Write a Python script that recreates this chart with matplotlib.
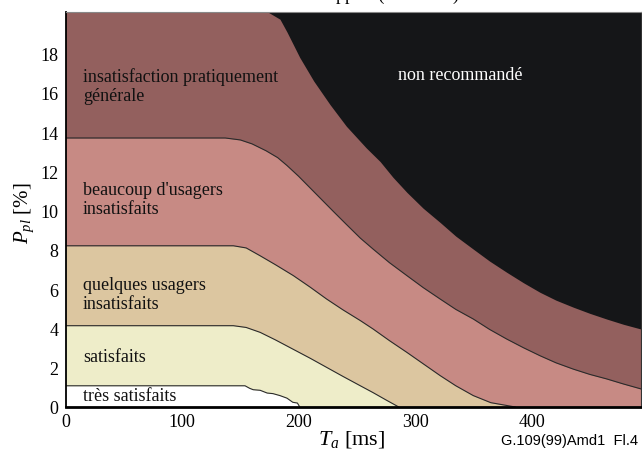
import matplotlib
matplotlib.use("Agg")
import matplotlib.pyplot as plt

# ---- data (boundaries) ----
ta_ticks = [0, 100, 200, 300, 400]
ppl_ticks = [0, 2, 4, 6, 8, 10, 12, 14, 16, 18]

# very satisfied / satisfied
b1_ta = [0, 154, 158, 161, 167, 173, 178, 184, 190, 195, 199, 201]
b1_p = [1.08, 1.08, 0.95, 0.88, 0.85, 0.71, 0.68, 0.58, 0.45, 0.24, 0.2, 0.0]
# satisfied / some dissatisfied
b2_ta = [0, 144, 155, 167, 180, 195, 210, 224, 238, 253, 264, 275, 286]
b2_p = [4.14, 4.14, 4.05, 3.8, 3.42, 2.95, 2.48, 2.02, 1.56, 1.08, 0.73, 0.36, 0.0]
# some / many dissatisfied
b3_ta = [0, 144, 155, 167, 180, 195.5, 210, 224, 238, 253, 264, 278, 293, 307, 321.5, 335, 350, 365, 386]
b3_p = [8.21, 8.21, 8.1, 7.7, 7.25, 6.69, 6.1, 5.5, 4.95, 4.4, 3.97, 3.38, 2.78, 2.2, 1.6, 1.08, 0.58, 0.22, 0.0]
# many dissatisfied / nearly all
b4_ta = [0, 137, 150, 160, 172, 182, 190, 200, 210, 220, 230, 241, 253, 264, 278, 293,
         307, 321.5, 335, 350, 364, 378.7, 393, 407.3, 421, 435.8, 450, 464.5, 479, 494]
b4_p = [13.7, 13.7, 13.6, 13.4, 13.05, 12.7, 12.3, 11.75, 11.15, 10.55, 9.95, 9.3, 8.6, 8.04, 7.35, 6.69,
        6.08, 5.5, 4.97, 4.48, 3.95, 3.46, 3.02, 2.61, 2.25, 1.93, 1.66, 1.43, 1.17, 0.92]
# nearly all dissatisfied / not recommended
b5_ta = [0, 174, 184, 190, 201, 213, 227, 241, 258, 270, 281, 293, 307, 321.5, 335, 350, 364,
         378.7, 393, 407.3, 421, 436, 450, 464.5, 479, 494]
b5_p = [20.1, 20.1, 19.75, 19.1, 17.8, 16.6, 15.4, 14.3, 13.2, 12.5, 11.7, 10.93, 10.12, 9.4, 8.7, 8.04, 7.43,
        6.86, 6.33, 5.84, 5.44, 5.08, 4.77, 4.48, 4.21, 3.97]

zone_labels = ["très satisfaits", "satisfaits", "quelques usagers\ninsatisfaits",
               "beaucoup d'usagers\ninsatisfaits", "insatisfaction pratiquement\ngénérale",
               "non recommandé"]

colors = ["#ffffff", "#eeedc9", "#dcc6a0", "#c78a84", "#93605e", "#151618"]

plt.rcParams['font.family'] = ['Liberation Serif', 'DejaVu Serif']
plt.rcParams['mathtext.fontset'] = 'custom'
plt.rcParams['mathtext.rm'] = 'Liberation Serif'
plt.rcParams['mathtext.it'] = 'Liberation Serif:italic'

fig = plt.figure(figsize=(6.42, 4.56), dpi=100)
ax = fig.add_axes([0.1023, 0.1053, 0.8961, 0.8655])
ax.set_facecolor(colors[5])

ax.fill_between(b5_ta, 0, b5_p, color=colors[4], lw=0)
ax.fill_between(b4_ta, 0, b4_p, color=colors[3], lw=0)
ax.fill_between(b3_ta, 0, b3_p, color=colors[2], lw=0)
ax.fill_between(b2_ta, 0, b2_p, color=colors[1], lw=0)
ax.fill_between(b1_ta, 0, b1_p, color=colors[0], lw=0)

for bt, bp in [(b1_ta, b1_p), (b2_ta, b2_p), (b3_ta, b3_p), (b4_ta, b4_p)]:
    ax.plot(bt, bp, color="#2a2a2a", lw=0.8, solid_joinstyle='round')

ax.set_xlim(0, 494)
ax.set_ylim(0, 20.1)
ax.set_xticks(ta_ticks)
ax.set_yticks(ppl_ticks)
ax.tick_params(length=0, labelsize=13, pad=5)
ax.tick_params(axis='x', pad=4)

ax.spines['left'].set_linewidth(1.3)
ax.spines['bottom'].set_linewidth(2.0)
ax.spines['top'].set_color('#888888')
ax.spines['top'].set_linewidth(0.8)
ax.spines['right'].set_color('#333333')
ax.spines['right'].set_linewidth(0.8)

fs = 13
ls = 1.2
ax.text(15, 16.37, zone_labels[4], fontsize=fs, va='center', ha='left', linespacing=ls, color='#111111')
ax.text(15, 10.6, zone_labels[3], fontsize=fs, va='center', ha='left', linespacing=ls, color='#111111')
ax.text(15, 5.75, zone_labels[2], fontsize=fs, va='center', ha='left', linespacing=ls, color='#111111')
ax.text(15, 2.55, zone_labels[1], fontsize=fs, va='center', ha='left', color='#111111')
ax.text(15, 0.6, zone_labels[0], fontsize=fs, va='center', ha='left', color='#111111')
ax.text(285, 16.95, zone_labels[5], fontsize=fs, va='center', ha='left', color='white')

fig.text(24 / 642, 1 - 213 / 456, r"$P_{pl}$ [%]", rotation=90, fontsize=15, ha='center', va='center')
fig.text(352 / 642, 1 - 440 / 456, r"$T_a$ [ms]", fontsize=16, ha='center', va='center')
fig.text(638 / 642, 1 - 441 / 456, "G.109(99)Amd1  Fl.4", fontsize=10.5, ha='right', va='center',
         family=['Liberation Sans', 'DejaVu Sans'])
fig.text(388 / 642, 1 + 0.5 / 456, "Rapport (modèle E)", fontsize=13, ha='center', va='baseline')

fig.savefig("out.png", dpi=100)
